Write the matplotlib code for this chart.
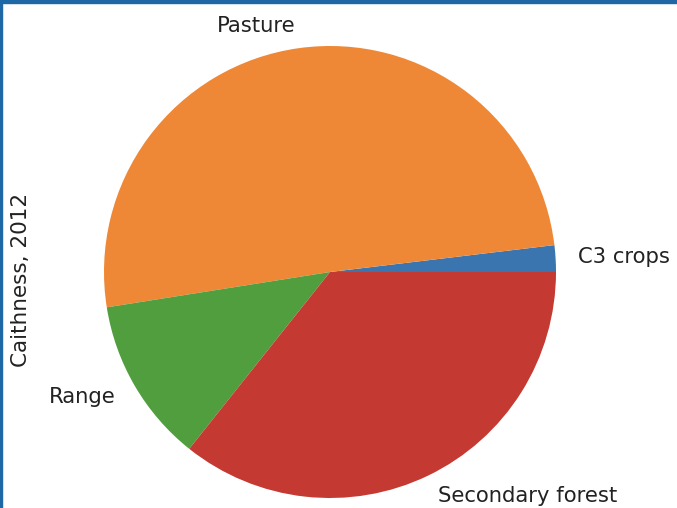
import matplotlib
matplotlib.use("Agg")
import matplotlib.pyplot as plt
from matplotlib.patches import Rectangle

categories = ["C3 crops", "Pasture", "Range", "Secondary forest"]
shares = [1.9, 50.6, 11.8, 35.7]
colors = ["#3a75af", "#ee8836", "#519e3e", "#c43a32"]
ylabel = "Caithness, 2012"

W, H = 677, 508
fig = plt.figure(figsize=(W / 100, H / 100), dpi=100)

cx, cy, r = 330, 272, 226
half = 1.25 * r
ax = fig.add_axes([(cx - half) / W, (H - cy - half) / H, 2 * half / W, 2 * half / H])
ax.pie(shares, labels=categories, colors=colors, startangle=0,
       textprops={"fontsize": 15.2, "color": "#222222"})
ax.set_xlim(-1.25, 1.25)
ax.set_ylim(-1.25, 1.25)
ax.set_aspect("auto")
ax.set_ylabel(ylabel, fontsize=15.5, color="#222222")
ax.yaxis.set_label_coords((31 - (cx - half)) / (2 * half), 0.5 - 8 / (2 * half))

# screenshot frame (top and left edges)
fig.patches.append(Rectangle((0, (H - 3) / H), 1, 3 / H, transform=fig.transFigure,
                             color="#1f68a6", zorder=10))
fig.patches.append(Rectangle((0, 0), 2 / W, 1, transform=fig.transFigure,
                             color="#1f68a6", zorder=10))

fig.savefig("out.png", dpi=100)
